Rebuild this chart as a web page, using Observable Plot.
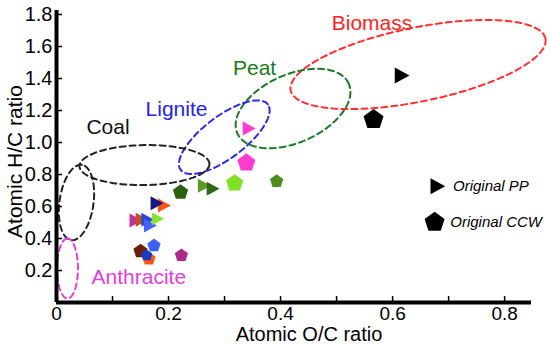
<!DOCTYPE html>
<html>
<head>
<meta charset="utf-8">
<script src="https://cdn.jsdelivr.net/npm/d3@7"></script>
<script src="https://cdn.jsdelivr.net/npm/@observablehq/plot@0.6"></script>
<style>
  html, body { margin: 0; padding: 0; background: #fff; }
  #chart svg { display: block; }
</style>
</head>
<body>
<div id="chart"></div>
<script>
// ---------- data ----------
const xTicksMajor = [0, 0.2, 0.4, 0.6, 0.8];
const xTicksMinor = [0.1, 0.2, 0.3, 0.4, 0.5, 0.6, 0.7, 0.8];
const yTicks = [0.2, 0.4, 0.6, 0.8, 1.0, 1.2, 1.4, 1.6, 1.8];

// triangles (PP series)
const triOC = [0.616, 0.343, 0.263, 0.2786, 0.1917, 0.1786, 0.141, 0.152, 0.162, 0.1667, 0.18];
const triHC = [1.419, 1.0875, 0.729, 0.711, 0.606, 0.621, 0.5125, 0.517, 0.517, 0.481, 0.523];
// pentagons (CCW series)
const penOC = [0.566, 0.339, 0.318, 0.393, 0.2214, 0.174, 0.15, 0.165, 0.161, 0.223];
const penHC = [1.144, 0.873, 0.746, 0.758, 0.689, 0.356, 0.321, 0.273, 0.294, 0.294];

// fuel regions (ellipse centres in O/C, H/C units)
const regionName = ["Biomass", "Peat", "Lignite", "Coal", "Coal", "Anthracite"];
const regionOC = [0.6455, 0.4223, 0.2996, 0.157, 0.0357, 0.0196];
const regionHC = [1.4875, 1.2125, 1.033, 0.859, 0.625, 0.2125];

// region labels
const labelText = ["Biomass", "Peat", "Lignite", "Coal", "Anthracite"];
const labelOC = [0.5633, 0.3536, 0.2143, 0.0920, 0.1470];
const labelHC = [1.744, 1.466, 1.206, 1.094, 0.159];

// legend
const legendText = ["Original PP", "Original CCW"];
const legendOC = [0.6798, 0.675];
const legendHC = [0.727, 0.502];

// ---------- styles ----------
const triColor = ["#000000", "#ff3ccf", "#5c9a22", "#2f6a12", "#ff5414", "#16167e", "#c0309e", "#c4501e", "#2c44d6", "#4262f2", "#86e22a"];
const triSize = [8, 7, 7, 7, 7, 7, 7, 7, 7, 7, 6.5];
const penColor = ["#000000", "#ff3ccf", "#80e024", "#4e8e1e", "#2c6010", "#3c62f2", "#6a2008", "#ff5612", "#1a3ac8", "#b02a8e"];
const penSize = [10.5, 9.5, 9, 7, 8, 7, 7.5, 7, 6, 7];
const regionColor = ["#ff3030", "#1a7a26", "#2a2ae0", "#222222", "#222222", "#e040e0"];
const regionA = [130, 61, 54.5, 65, 38, 30];
const regionB = [37, 34, 21, 20, 17, 10.5];
const regionAngle = [11.5, 24, 37, 1, 82, 90];
const labelColor = ["#ff2222", "#1a7a1a", "#2222ee", "#111111", "#e040e0"];

// ---------- layout ----------
const W = 550, H = 345;
const mL = 56, mR = 19, mT = 10, mB = 43;
const xDomain = [0, 0.848], yDomain = [0, 1.825];
const sx = Plot.scale({x: {domain: xDomain, range: [mL, W - mR]}});
const sy = Plot.scale({y: {domain: yDomain, range: [H - mB, mT]}});

// symbols
const pentagon = {draw(ctx, size) {
  const R = Math.sqrt(size / Math.PI);
  for (let i = 0; i < 5; i++) {
    const a = -Math.PI / 2 + i * 2 * Math.PI / 5;
    const px = R * Math.cos(a), py = R * Math.sin(a);
    if (i) ctx.lineTo(px, py); else ctx.moveTo(px, py);
  }
  ctx.closePath();
}};
const triRight = {draw(ctx, size) {
  const R = Math.sqrt(size / Math.PI);
  ctx.moveTo(R, 0);
  ctx.lineTo(-0.85 * R, -R);
  ctx.lineTo(-0.85 * R, R);
  ctx.closePath();
}};

// tables
const tris = triOC.map((x, i) => ({x, y: triHC[i], c: triColor[i], r: triSize[i]}));
const pens = penOC.map((x, i) => ({x, y: penHC[i], c: penColor[i], r: penSize[i]}));
const ellPts = [];
regionOC.forEach((cx, i) => {
  const px0 = sx.apply(cx), py0 = sy.apply(regionHC[i]);
  const th = regionAngle[i] * Math.PI / 180, a = regionA[i], b = regionB[i];
  const N = 120;
  for (let k = 0; k < N; k++) {
    const t = 2 * Math.PI * k / N;
    const px = px0 + a * Math.cos(t) * Math.cos(th) - b * Math.sin(t) * Math.sin(th);
    const py = py0 - (a * Math.cos(t) * Math.sin(th) + b * Math.sin(t) * Math.cos(th));
    ellPts.push({x: sx.invert(px), y: sy.invert(py), id: i, c: regionColor[i]});
  }
});
const labels = labelText.map((t, i) => ({t, x: labelOC[i], y: labelHC[i], c: labelColor[i]}));

const plot = Plot.plot({
  width: W, height: H,
  marginLeft: mL, marginRight: mR, marginTop: mT, marginBottom: mB,
  x: {domain: xDomain, axis: null},
  y: {domain: yDomain, axis: null},
  r: {type: "identity"},
  style: {fontFamily: "'Liberation Sans', Arial, sans-serif", background: "#fff", color: "#000"},
  marks: [
    Plot.line(ellPts, {x: "x", y: "y", z: "id", stroke: "c", strokeWidth: 2, strokeDasharray: "6,4", curve: "linear-closed"}),
    Plot.text(labels, {x: "x", y: "y", text: "t", fill: "c", fontSize: 21, lineAnchor: "middle"}),
    Plot.dot(pens, {x: "x", y: "y", fill: "c", r: "r", symbol: pentagon, stroke: null}),
    Plot.dot(tris, {x: "x", y: "y", fill: "c", r: "r", symbol: triRight, stroke: null}),
    // legend
    Plot.dot([0], {x: legendOC[0], y: legendHC[0], symbol: triRight, r: 8, fill: "#000"}),
    Plot.dot([0], {x: legendOC[1], y: legendHC[1], symbol: pentagon, r: 10.5, fill: "#000"}),
    Plot.text(legendText, {x: legendOC.map(v => v + 0.028), y: legendHC, text: d => d, textAnchor: "start", fontSize: 15, fontStyle: "italic", lineAnchor: "middle"}),
    // inward ticks
    Plot.axisX({ticks: xTicksMinor, tickSize: 6, dy: -6, tickFormat: () => "", label: null, strokeWidth: 1.5}),
    Plot.axisY({ticks: yTicks, tickSize: 6, dx: 6, tickFormat: () => "", label: null, strokeWidth: 1.5}),
    // tick labels
    Plot.axisX({ticks: xTicksMajor, tickSize: 0, tickPadding: 4, tickFormat: d => d === 0 ? "0" : d.toFixed(1), fontSize: 19, label: null}),
    Plot.axisY({ticks: yTicks, tickSize: 0, tickPadding: 4, tickFormat: d => d.toFixed(1), fontSize: 20, label: null}),
    // thick axis lines
    Plot.ruleX([0], {y1: 0, y2: yDomain[1], strokeWidth: 4, stroke: "#000"}),
    Plot.ruleY([0], {x1: 0, x2: xDomain[1], strokeWidth: 4, stroke: "#000"}),
    // axis titles
    Plot.text(["Atomic O/C ratio"], {frameAnchor: "bottom", text: d => d, textAnchor: "middle", dx: 15, dy: 32, fontSize: 20, lineAnchor: "middle"}),
    Plot.text(["Atomic H/C ratio"], {frameAnchor: "left", text: d => d, textAnchor: "middle", rotate: -90, dx: -41, dy: 5, fontSize: 21, lineAnchor: "middle"})
  ]
});
document.getElementById("chart").appendChild(plot);
</script>
</body>
</html>
